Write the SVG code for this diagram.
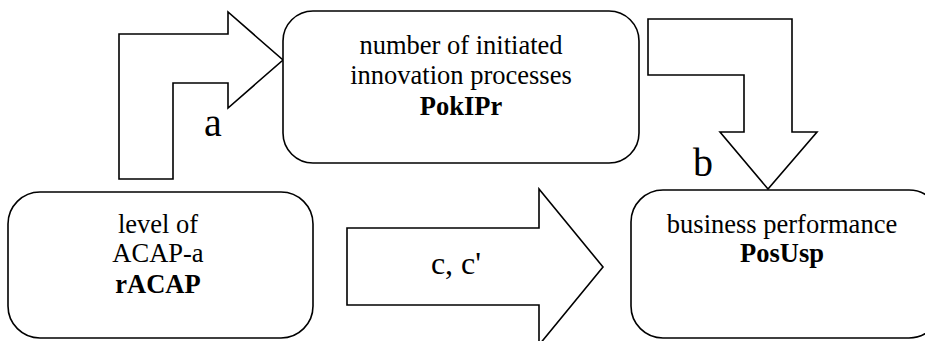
<svg xmlns="http://www.w3.org/2000/svg" width="925" height="341" viewBox="0 0 925 341">
<style>
.box{fill:#fff;stroke:#000;stroke-width:1.6}
.arr{fill:#fff;stroke:#000;stroke-width:1.6;stroke-linejoin:miter}
.t{font-family:"Liberation Serif",serif;font-size:26.5px;fill:#000;text-anchor:middle}
.b{font-weight:bold}
.c{font-family:"Liberation Serif",serif;font-size:32px;fill:#000;text-anchor:middle}
.lbl{font-family:"Liberation Serif",serif;font-size:40px;fill:#000;text-anchor:middle}
</style>
<rect width="925" height="341" fill="#fff"/>
<g id="connectors">
<path id="arrow-a" class="arr" d="M119,179 L119,34 L228,34 L228,12 L283,60 L228,108 L228,83 L173,83 L173,179 Z"/>
<path id="arrow-b" class="arr" d="M648,19 L792,19 L792,132 L817,132 L768,189 L720,132 L744,132 L744,75 L648,75 Z"/>
<path id="arrow-c" class="arr" d="M347,228 L539,228 L539,189 L603,267 L539,345 L539,305 L347,305 Z"/>
<text class="lbl" x="213" y="136">a</text>
<text class="lbl" x="703" y="176">b</text>
<text class="c" x="456" y="274">c, c'</text>
</g>
<g id="node-pokipr">
<rect class="box" x="283" y="11" width="356" height="152" rx="30" ry="30"/>
<text class="t" x="461" y="54">number of initiated</text>
<text class="t" x="461" y="84">innovation processes</text>
<text class="t b" x="461" y="115">PokIPr</text>
</g>
<g id="node-racap">
<rect class="box" x="8" y="192" width="305" height="146" rx="32" ry="32"/>
<text class="t" x="158" y="233">level of</text>
<text class="t" x="158" y="262">ACAP-a</text>
<text class="t b" x="158" y="293">rACAP</text>
</g>
<g id="node-posusp">
<rect class="box" x="631" y="190" width="310" height="148" rx="32" ry="32"/>
<text class="t" x="782" y="233">business performance</text>
<text class="t b" x="782" y="262">PosUsp</text>
</g>
</svg>
